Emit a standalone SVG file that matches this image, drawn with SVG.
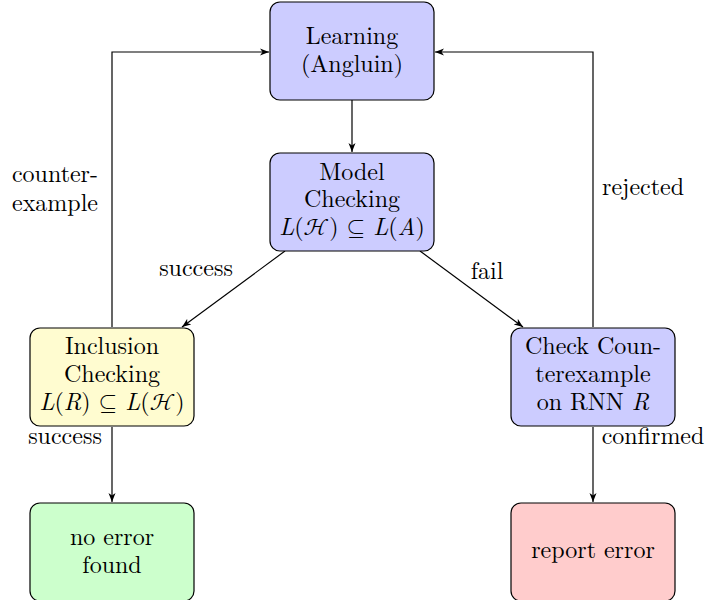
<svg xmlns="http://www.w3.org/2000/svg" width="706" height="600" viewBox="0 0 706 600" font-family="'Latin Modern Roman', 'Liberation Serif', serif" font-size="24">
<defs>
<marker id="arr" markerWidth="10" markerHeight="8" refX="9" refY="4" orient="auto" markerUnits="userSpaceOnUse">
<path d="M0,0.5 L9,4 L0,7.5 L2.5,4 Z" fill="#000"/>
</marker>
</defs>
<style>
text{fill:#000;text-anchor:middle}
.box{stroke:#000;stroke-width:1.2}
.blue{fill:#ccccff}
.yellow{fill:#fffcd0}
.green{fill:#ccffcc}
.red{fill:#ffcccc}
.conn{fill:none;stroke:#000;stroke-width:1.2;marker-end:url(#arr)}
.m{font-style:italic}
</style>
<rect width="706" height="600" fill="#fff"/>
<g id="connectors">
<path class="conn" d="M352,100 L352,152"/>
<path class="conn" d="M285,251 L182,327"/>
<path class="conn" d="M420,251 L523,327"/>
<path class="conn" d="M112,327 L112,52 L269,52"/>
<path class="conn" d="M593,327 L593,52 L435,52"/>
<path class="conn" d="M112,427 L112,502"/>
<path class="conn" d="M593,427 L593,502"/>
<text x="55" y="182">counter-</text>
<text x="55" y="211">example</text>
<text x="643" y="195">rejected</text>
<text x="196" y="276">success</text>
<text x="487" y="279">fail</text>
<text x="65" y="444">success</text>
<text x="653" y="444">confirmed</text>
</g>
<g id="learning">
<rect class="box blue" x="270" y="2" width="164" height="98" rx="10"/>
<text x="352" y="44">Learning</text>
<text x="352" y="72">(Angluin)</text>
</g>
<g id="model">
<rect class="box blue" x="270" y="153" width="164" height="98" rx="10"/>
<text x="352" y="180">Model</text>
<text x="352" y="207">Checking</text>
<text x="352" y="235"><tspan class="m">L</tspan>(<tspan font-family="'Latin Modern Math', serif">ℋ</tspan>) <tspan font-family="'Latin Modern Math', serif">⊆</tspan> <tspan class="m">L</tspan>(<tspan class="m">A</tspan>)</text>
</g>
<g id="inclusion">
<rect class="box yellow" x="30" y="328" width="164" height="98" rx="10"/>
<text x="112" y="354">Inclusion</text>
<text x="112" y="382">Checking</text>
<text x="112" y="410"><tspan class="m">L</tspan>(<tspan class="m">R</tspan>) <tspan font-family="'Latin Modern Math', serif">⊆</tspan> <tspan class="m">L</tspan>(<tspan font-family="'Latin Modern Math', serif">ℋ</tspan>)</text>
</g>
<g id="check">
<rect class="box blue" x="511" y="328" width="164" height="98" rx="10"/>
<text x="593" y="354">Check Coun-</text>
<text x="593" y="382">terexample</text>
<text x="593" y="410">on RNN <tspan class="m">R</tspan></text>
</g>
<g id="noerror">
<rect class="box green" x="30" y="503" width="164" height="98" rx="10"/>
<text x="112" y="545">no error</text>
<text x="112" y="573">found</text>
</g>
<g id="report">
<rect class="box red" x="511" y="503" width="164" height="98" rx="10"/>
<text x="593" y="558">report error</text>
</g>
</svg>
